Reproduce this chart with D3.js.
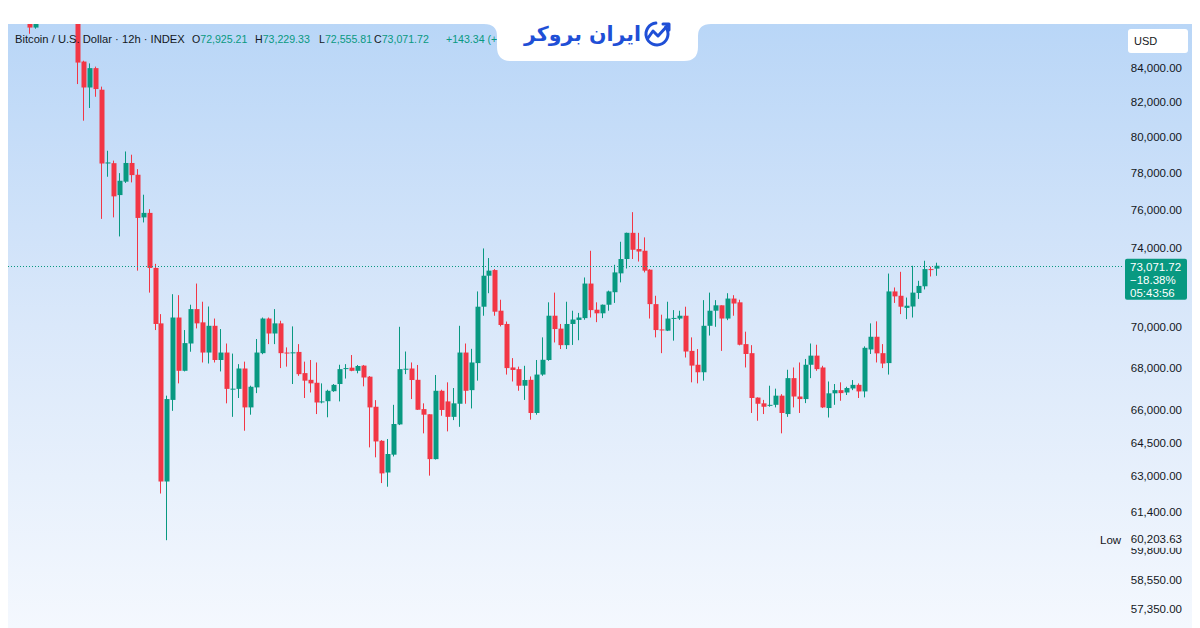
<!DOCTYPE html>
<html><head><meta charset="utf-8">
<script src="https://cdn.jsdelivr.net/npm/d3@7"></script>
<style>html,body{margin:0;padding:0;background:#fff;overflow:hidden}svg{display:block}</style>
</head><body>
<svg id="c" width="1200" height="628"></svg>
<script>
// ---- data (12h candles, BTC/USD) ----
const candleIndex = d3.range(153);
const open  = [86750,86450,87200,87900,87500,87100,87600,87300,87400,84400,82870,84010,82740,78540,78560,76810,77540,78570,77920,75610,75850,72960,70160,62750,66470,70450,67850,69170,70870,70210,68730,70040,68370,68730,66990,66990,67960,66120,67060,68700,70400,69660,70160,68730,68700,68760,67740,67420,67280,66380,66410,66880,67220,67940,68000,67850,68100,67570,66150,64580,63150,63950,65330,67930,67960,67420,66040,65800,63750,66900,66400,65680,66290,68730,66930,68220,70990,72560,72850,70790,70130,68010,67930,67140,67420,65860,67670,68370,70540,69900,69090,70130,70330,70420,72160,70840,70660,71090,71720,72680,73420,74790,73940,73850,72870,71120,69860,69800,70400,70400,70540,68810,68140,67780,70040,70790,71060,70400,71400,71210,69140,68700,66580,66310,66210,66240,66670,65810,67500,66630,66510,68140,68580,68010,66090,66780,66930,66820,67010,67180,66870,68880,69500,68700,68220,71760,71540,70930,71000,71680,72020,72900,72925.21];
const high  = [86900,86900,88100,88600,88000,87800,88200,87700,87600,84450,84290,84100,82920,79250,78700,78010,79210,79030,78230,76830,76050,73170,70620,66670,71620,71570,69830,71090,72160,71240,71000,70400,69880,69170,68680,68170,68290,67140,69390,70450,70450,70870,70290,68980,70010,69140,68290,68370,68250,67250,66950,67220,68140,68170,68610,68130,68130,67600,66460,64610,64660,66240,69990,68780,68250,68130,66310,65800,67650,66950,67300,67030,70040,69170,68910,71760,73970,73470,72900,71340,70250,68460,68050,68090,67580,68370,69470,71210,71700,70130,71240,70790,70680,72470,73850,71210,71100,71800,73120,74320,74800,75890,74790,74550,72900,71540,70590,71240,70820,70790,70990,69470,68900,71320,71700,71320,71060,71670,71570,71340,69750,69090,66590,66470,67140,67000,66740,67900,68010,68250,68420,69170,69110,68090,67340,67220,67300,67090,67410,67250,69030,70160,70260,69140,72670,71960,72760,71450,73070,72300,73330,73020,73229.33];
const low   = [86070,86380,86900,87300,86900,86800,87000,86900,83070,80950,81680,82330,75530,77810,75610,74600,77470,77500,72820,75340,71700,69830,62220,60203.63,65960,67250,67820,68770,69910,68250,68200,68250,67820,66310,65680,66560,65040,65780,66790,68650,69140,69140,67980,68050,67220,67610,66560,66820,65810,66310,65660,66850,66400,67480,67830,67730,67110,64280,63830,62680,62520,63870,65300,67690,66510,66000,64920,63010,63730,65730,65010,65530,65220,66290,66070,67380,70540,71670,70540,70010,67670,67340,66900,66470,65550,65780,67610,68330,69220,68900,68900,69100,69330,70340,70450,70220,70420,70790,71180,72220,72930,73420,73290,72730,70400,69470,68700,69780,69310,70330,68490,67300,67250,67380,69560,69990,68810,70320,70540,69080,68010,65860,65500,65810,66150,66120,64920,65680,66120,65860,66320,67500,67850,66090,65650,66240,66430,66700,66930,66560,66590,68660,68250,67980,67670,71180,70620,70370,70450,71380,71860,72520,72555.81];
const close = [86450,86750,87900,87500,87100,87600,87300,87400,84340,82870,84010,82780,78540,78600,76740,77590,78570,77900,75580,75850,72960,70130,62750,66510,70450,67850,69190,70870,70160,68730,70040,68370,68730,66990,67000,67960,66120,67090,68730,70400,69660,70160,68700,68700,68740,67690,67380,67250,66350,66400,66900,67180,67930,67980,67850,68080,67530,66120,64550,63110,63980,65350,67930,67950,67410,66010,65780,63750,66900,66000,65680,66310,68730,66900,68250,70990,72560,72820,70740,70080,67980,67890,67140,67410,65860,67670,68380,70540,69880,69090,70130,70350,70450,72160,70820,70660,71090,71760,72730,73420,74790,73900,73810,72820,71120,69830,69830,70400,70430,70540,68780,68100,67780,70040,70790,71060,70400,71400,71150,69110,68660,66560,66290,66150,66240,66670,65860,67500,66630,66510,68140,68580,67930,66120,66780,66930,66790,67030,67180,66870,68960,69500,68690,68200,71760,71510,70990,71040,71700,72040,72900,72860,73071.72];
const tickValues = [84000,82000,80000,78000,76000,74000,70000,68000,66000,64500,63000,61400,59800,58550,57350];
const lastPrice = 73071.72, lastChange = "\u221218.38%", countdown = "05:43:56";
const lowValue = 60203.63;
const headerTitle = "Bitcoin / U.S. Dollar \u00b7 12h \u00b7 INDEX";
const headerOHLC = [["O","72,925.21"],["H","73,229.33"],["L","72,555.81"],["C","73,071.72"]];
const headerChange = "+143.34 (+";
const brandName = "ایران بروکر";

const W = 1200, H = 628;
const svg = d3.select("#c");
const RED = "#f23645", GREEN = "#089981";
const FONT = "'Liberation Sans', Arial, sans-serif";

const defs = svg.append("defs");
const grad = defs.append("linearGradient").attr("id","bg").attr("x1",0).attr("y1",0).attr("x2",0).attr("y2",1);
grad.append("stop").attr("offset","0%").attr("stop-color","#b9d6f7");
grad.append("stop").attr("offset","50%").attr("stop-color","#dae8fa");
grad.append("stop").attr("offset","100%").attr("stop-color","#f4f8fe");
defs.append("clipPath").attr("id","plot").append("rect").attr("x",8).attr("y",24).attr("width",1112).attr("height",604);
defs.append("clipPath").attr("id","belowLow").append("rect").attr("x",1090).attr("y",547.5).attr("width",110).attr("height",80);

svg.append("rect").attr("width",W).attr("height",H).attr("fill","#fff");
svg.append("rect").attr("x",8).attr("y",24).attr("width",1184).attr("height",604).attr("fill","url(#bg)");

const x = d3.scaleLinear().domain([0,152]).range([29.3,935.7]);
const y = d3.scaleLog().domain([57350,84000]).range([609,68.3]);

const data = candleIndex.map(i => ({i, o:open[i], h:high[i], l:low[i], c:close[i]}));

const plot = svg.append("g").attr("clip-path","url(#plot)");
const cg = plot.selectAll("g.cd").data(data).join("g").attr("class","cd");
cg.append("line")
  .attr("x1", d => Math.round(x(d.i)) + 0.5).attr("x2", d => Math.round(x(d.i)) + 0.5)
  .attr("y1", d => y(d.h)).attr("y2", d => y(d.l))
  .attr("stroke", d => d.c >= d.o ? GREEN : RED).attr("stroke-width",1);
cg.append("rect")
  .attr("x", d => Math.round(x(d.i)) - 1.5).attr("width", 5)
  .attr("y", d => y(Math.max(d.o,d.c)))
  .attr("height", d => Math.max(1, y(Math.min(d.o,d.c)) - y(Math.max(d.o,d.c))))
  .attr("fill", d => d.c >= d.o ? GREEN : RED);

// last price dotted line
svg.append("line").attr("x1",8).attr("x2",1122)
  .attr("y1", Math.round(y(lastPrice)) + 0.5).attr("y2", Math.round(y(lastPrice)) + 0.5)
  .attr("stroke",GREEN).attr("stroke-width",1).attr("stroke-dasharray","1,2");

// right axis labels (the one just under the Low marker is partly hidden by it)
const axisG = svg.append("g").attr("font-family",FONT).attr("font-size",11.5).attr("fill","#131722");
axisG.selectAll("text").data(tickValues).join("text")
  .attr("x",1182).attr("y", d => y(d)).attr("dy","0.35em").attr("text-anchor","end")
  .attr("clip-path", d => d === 59800 ? "url(#belowLow)" : null)
  .text(d => d3.format(",.2f")(d));

// Low label
const ly = y(lowValue);
svg.append("rect").attr("x",1096).attr("y",ly-7.5).attr("width",91).attr("height",15).attr("fill","#edf3fc");
svg.append("text").attr("x",1100).attr("y",ly).attr("dy","0.35em").attr("font-family",FONT)
  .attr("font-size",11.5).attr("fill","#131722").text("Low");
svg.append("text").attr("x",1182).attr("y",ly-1).attr("dy","0.35em").attr("text-anchor","end").attr("font-family",FONT)
  .attr("font-size",11.5).attr("fill","#131722").text(d3.format(",.2f")(lowValue));

// last price label box
const py = y(lastPrice);
svg.append("rect").attr("x",1125).attr("y",py-7).attr("width",62).attr("height",41).attr("rx",2).attr("fill",GREEN);
const pl = svg.append("g").attr("font-family",FONT).attr("font-size",11.5).attr("fill","#fff");
[d3.format(",.2f")(lastPrice), lastChange, countdown].forEach((t,k) => {
  pl.append("text").attr("x",1130).attr("y",py + 1 + k*13).attr("dy","0.35em").text(t);
});

// USD box
svg.append("rect").attr("x",1128).attr("y",29).attr("width",60).attr("height",24).attr("rx",3).attr("fill","#fff");
svg.append("text").attr("x",1134).attr("y",41).attr("dy","0.35em").attr("font-family",FONT)
  .attr("font-size",11).attr("fill","#131722").text("USD");

// header legend
svg.append("text").attr("x",15).attr("y",43).attr("font-family",FONT).attr("font-size",11.2)
  .attr("fill","#131722").text(headerTitle);
const hx = [192,255,319,374];
headerOHLC.forEach((p,k) => {
  const t = svg.append("text").attr("x",hx[k]).attr("y",43).attr("font-family",FONT).attr("font-size",10.6);
  t.append("tspan").attr("fill","#131722").text(p[0]);
  t.append("tspan").attr("fill",GREEN).text(p[1]);
});
svg.append("text").attr("x",446).attr("y",43).attr("font-family",FONT).attr("font-size",10.6)
  .attr("fill",GREEN).text(headerChange);

// logo tab
const tab = d3.path();
tab.moveTo(484,0); tab.lineTo(484,24);
tab.quadraticCurveTo(497,24,497,36);
tab.lineTo(497,47); tab.quadraticCurveTo(497,61,511,61);
tab.lineTo(684,61); tab.quadraticCurveTo(698,61,698,47);
tab.lineTo(698,36); tab.quadraticCurveTo(698,24,711,24);
tab.lineTo(711,0); tab.closePath();
svg.append("path").attr("d",tab.toString()).attr("fill","#fff");
const BLUE = "#1f4fd6";
svg.append("text").attr("x",641).attr("y",41).attr("text-anchor","end")
  .attr("font-family","'DejaVu Sans', sans-serif").attr("font-weight","bold").attr("font-size",20.5).attr("fill",BLUE).text(brandName);
const ic = svg.append("g").attr("fill","none").attr("stroke",BLUE).attr("stroke-width",3).attr("stroke-linecap","round").attr("stroke-linejoin","round");
ic.append("path").attr("d", d3.arc()({innerRadius:11, outerRadius:11, startAngle:0.9, endAngle:2*Math.PI - 0.1})).attr("transform","translate(657,34)");
ic.append("path").attr("d","M648,38 L653,31 L658,36 L668,25");
ic.append("path").attr("d","M663,24 L669,24 L669,30");
</script>
</body></html>
